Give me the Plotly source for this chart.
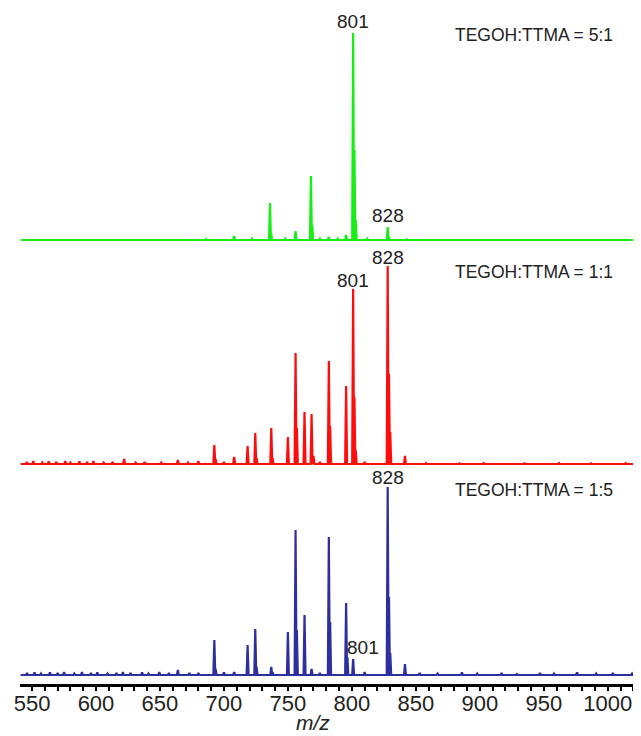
import plotly.graph_objects as go

# ---------------- data (m/z, relative intensity in a.u.) ----------------
green_mz = [563, 587, 611, 648, 672, 686, 708, 722, 736, 737, 748, 756, 768, 769, 775, 782, 789, 795.5, 801, 802, 803, 812, 828, 829, 843, 866, 897, 934, 958, 993, 1012]
green_int = [0.5, 0.7, 0.5, 0.7, 0.5, 1, 4, 1.5, 37, 6, 1.5, 9, 64, 15, 1.5, 3, 1.5, 5, 207, 90, 20, 1.5, 13, 3, 0.7, 0.5, 0.7, 0.5, 0.7, 0.5, 0.7]

red_mz = [546, 551, 558, 563, 569, 576, 580, 587, 593, 598, 606, 613, 622, 631, 638, 651, 664, 672, 680, 692.5, 693.5, 700, 708, 718.5, 724.5, 725.5, 737, 738, 750, 756, 757, 763, 768.5, 770, 775, 782, 783, 795.5, 801, 802, 803, 810, 828, 829, 830, 841.5, 858, 884, 903, 935, 962, 987, 1014]
red_int = [2, 3, 1.5, 2.5, 2, 3, 1.5, 2.5, 2, 3, 1.5, 2, 5, 1.5, 2, 1.5, 4, 1.5, 3, 19, 5, 2, 7, 18, 31, 6, 36, 6, 27, 111, 36, 52, 50, 8, 2, 103, 38, 78, 175, 67, 14, 2, 198, 90, 32, 8, 1, 0.7, 1, 0.7, 1, 0.7, 1]

blue_mz = [546, 552, 557, 564, 570, 575, 583, 589, 596, 601, 609, 616, 621, 627, 636, 641, 649.5, 657, 664, 673, 680, 692.5, 693.5, 700, 708, 718.5, 724.5, 725.5, 737, 738, 750, 756, 757, 763, 768.5, 775, 782, 783, 795.5, 796.5, 801, 810, 828, 829, 830, 841.5, 853, 867, 886, 898, 917, 929, 947, 958, 976, 991, 1004, 1019]
blue_int = [2, 2.5, 1.5, 2.5, 2, 3, 1.5, 3, 2, 2.5, 1.5, 2, 3, 2, 2.5, 1.5, 3, 2, 5, 2, 2, 35, 6, 2.5, 3, 30, 46, 8, 8, 3, 43, 145, 45, 60, 6, 2, 138, 53, 72, 18, 16, 3, 188, 78, 22, 11, 2, 1.5, 2.5, 1.5, 2, 1, 2, 1.5, 2.5, 1.5, 2, 1.5]

x_ticks = [550, 600, 650, 700, 750, 800, 850, 900, 950, 1000]

# ---------------- layout constants ----------------
# the page body has an 8 px margin, so the figure is 8 px smaller than the window
X_RANGE = [540.6, 1026]
Y_RANGE = [0, 676]
OFFSETS = {"green": 444, "red": 220, "blue": 9}
COLORS = {"green": "#16ee16", "red": "#ff0d0d", "blue": "#2d2f9f"}
HALF = 0.75
FONT = "Liberation Sans, Arial, sans-serif"


def profile(mz, inten, base):
    pairs = sorted(zip(mz, inten))
    xs = [X_RANGE[0] + 0.5]
    ys = [base]
    for m, h in pairs:
        xs += [m - HALF, m, m + HALF]
        ys += [base, base + h, base]
    xs.append(X_RANGE[1])
    ys.append(base)
    return xs, ys


fig = go.Figure()
for name, mz, inten in [("green", green_mz, green_int), ("red", red_mz, red_int), ("blue", blue_mz, blue_int)]:
    xs, ys = profile(mz, inten, OFFSETS[name])
    fig.add_trace(go.Scatter(x=xs, y=ys, mode="lines",
                             line=dict(color=COLORS[name], width=2.2),
                             showlegend=False, hoverinfo="skip", cliponaxis=False))

annots = [
    dict(x=801, y=663, text="801"),
    dict(x=828, y=469, text="828"),
    dict(x=828, y=427, text="828"),
    dict(x=801, y=404, text="801"),
    dict(x=828, y=207, text="828"),
    dict(x=808.6, y=37, text="801"),
]
for a in annots:
    fig.add_annotation(x=a["x"], y=a["y"], xref="x", yref="y", text=a["text"],
                       showarrow=False, xanchor="center", yanchor="middle",
                       font=dict(family=FONT, size=19, color="#222222"))

for y, t in [(649, "TEGOH:TTMA = 5:1"), (412, "TEGOH:TTMA = 1:1"), (194, "TEGOH:TTMA = 1:5")]:
    fig.add_annotation(x=879, y=y, xref="x", yref="y", text=t, showarrow=False,
                       xanchor="left", yanchor="middle",
                       font=dict(family=FONT, size=17.5, color="#222222"))

fig.add_annotation(x=769.5, y=-38 / 676, xref="x", yref="paper", text="<i>m/z</i>",
                   showarrow=False, xanchor="center", yanchor="middle",
                   font=dict(family=FONT, size=21, color="#222222"))

fig.update_layout(
    width=633, height=728,
    margin=dict(l=12, r=0, t=0, b=52, autoexpand=False),
    paper_bgcolor="white", plot_bgcolor="white",
    xaxis=dict(range=X_RANGE, tickvals=x_ticks, ticktext=[str(v) for v in x_ticks],
               automargin=False,
               showline=True, linecolor="black", linewidth=3,
               ticks="outside", ticklen=4, tickwidth=1.5, tickcolor="black",
               ticklabelstandoff=-6,
               minor=dict(dtick=10, ticks="outside", ticklen=4, tickwidth=1.5, tickcolor="black"),
               showgrid=False, zeroline=False,
               tickfont=dict(family=FONT, size=22, color="#222222")),
    yaxis=dict(range=Y_RANGE, visible=False, showgrid=False, zeroline=False, automargin=False),
)

fig.write_html("out.html")
